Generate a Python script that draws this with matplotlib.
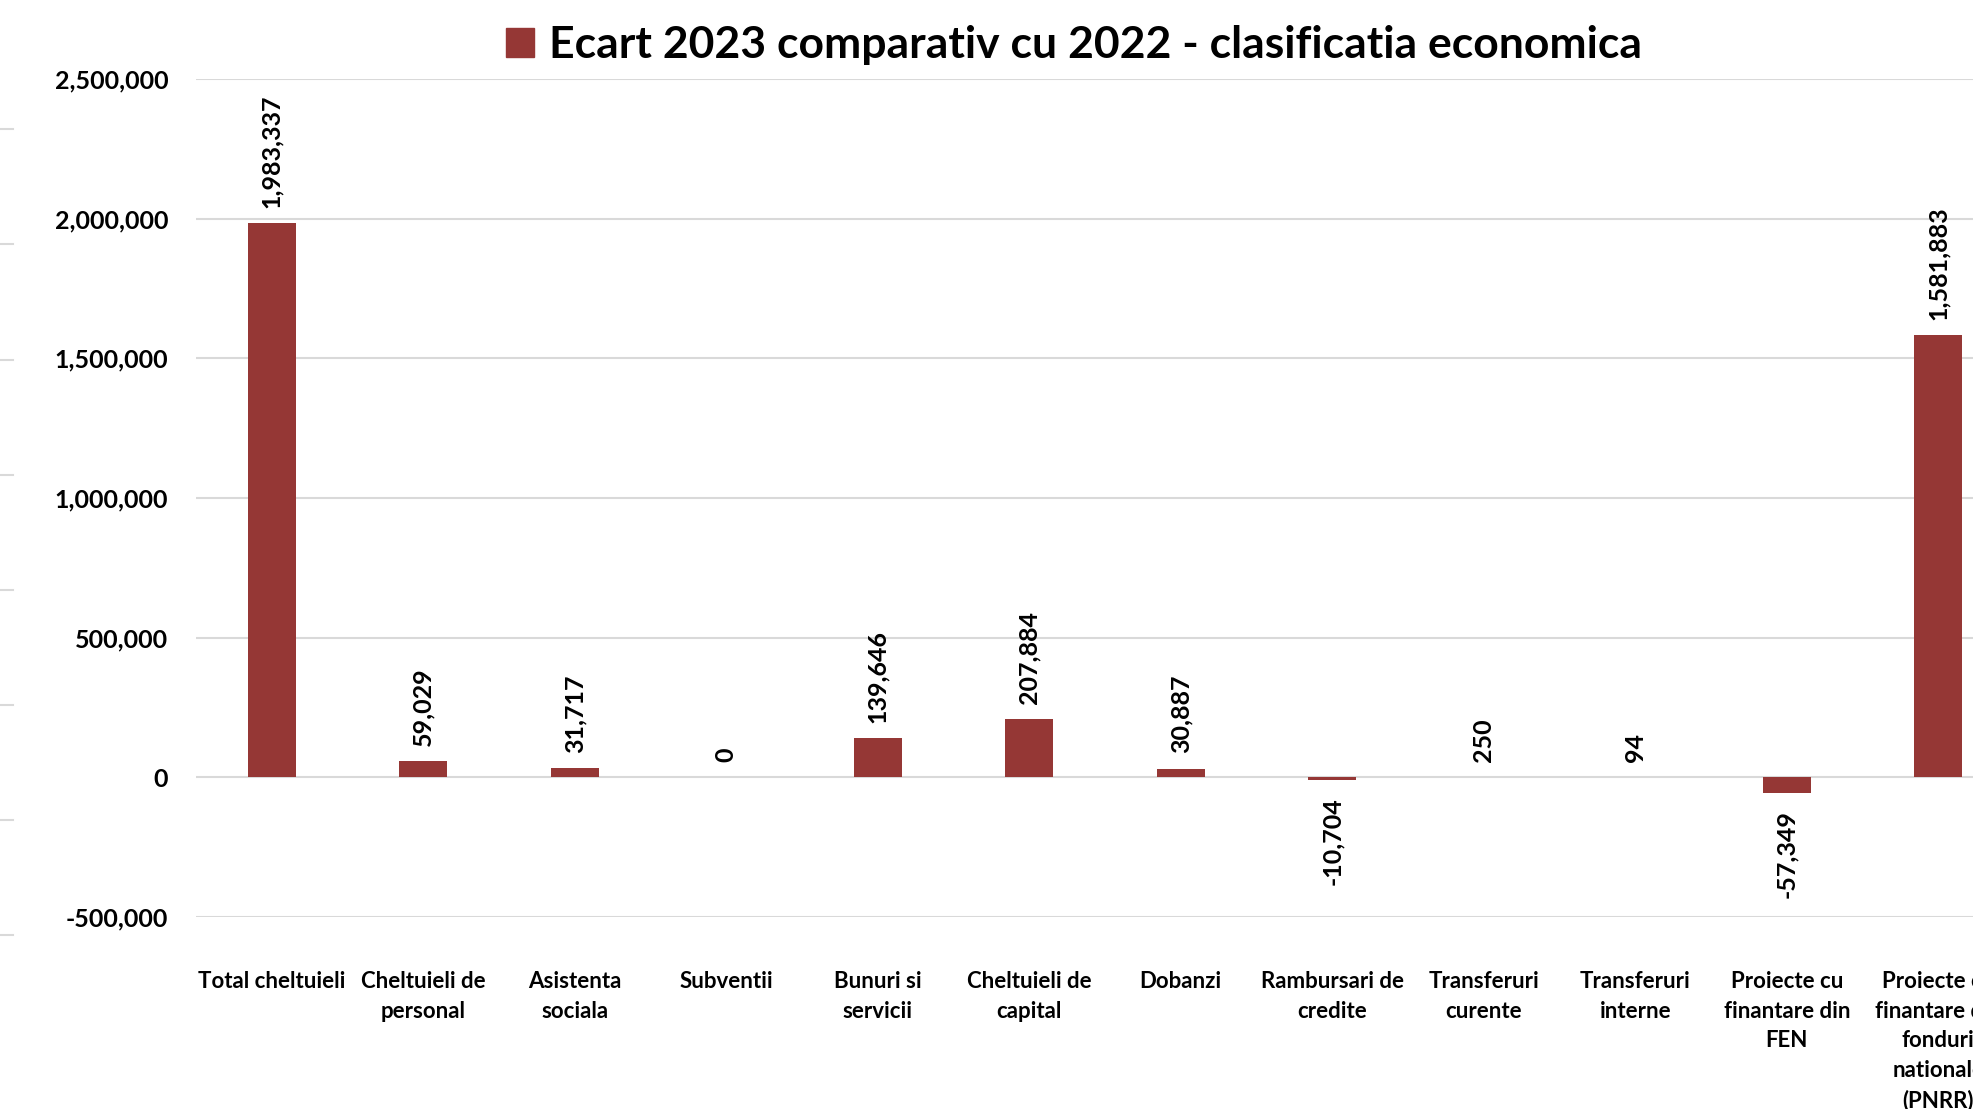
import numpy as np
import matplotlib.pyplot as plt
from matplotlib.patches import Patch
from matplotlib.lines import Line2D
from matplotlib.ticker import FuncFormatter

# categorii si valori (ecart 2023 vs 2022)
categorii = [
    "Total cheltuieli",
    "Cheltuieli de\npersonal",
    "Asistenta\nsociala",
    "Subventii",
    "Bunuri si\nservicii",
    "Cheltuieli de\ncapital",
    "Dobanzi",
    "Rambursari de\ncredite",
    "Transferuri\ncurente",
    "Transferuri\ninterne",
    "Proiecte cu\nfinantare din\nFEN",
    "Proiecte cu\nfinantare din\nfonduri\nnationale\n(PNRR)",
]
ecart = [1983337, 59029, 31717, 0, 139646, 207884, 30887, -10704, 250, 94, -57349, 1581883]
yticks = [-500000, 0, 500000, 1000000, 1500000, 2000000, 2500000]

plt.rcParams['font.family'] = ['Lato', 'DejaVu Sans']
plt.rcParams['font.weight'] = 'bold'

culoare = '#953735'
gri = '#d9d9d9'

W, H = 1973, 1109
fig = plt.figure(figsize=(W / 100, H / 100), dpi=100)
# zona de plot: stanga la 196px, ultima categorie iese din imagine
x0, x1 = 196, 196 + 12 * 151.5
ytop, ybot = 79, 917
ax = fig.add_axes([x0 / W, (H - ybot) / H, (x1 - x0) / W, (ybot - ytop) / H])

x = np.arange(len(categorii))
ax.bar(x, ecart, width=0.32, color=culoare, zorder=3)

ax.set_xlim(-0.5, len(categorii) - 0.5)
ax.set_ylim(-500000, 2500000)
ax.set_yticks(yticks)
ax.yaxis.set_major_formatter(FuncFormatter(lambda v, p: f"{int(v):,}"))
ax.grid(axis='y', color=gri, linewidth=1.5, zorder=0)
for s in ax.spines.values():
    s.set_visible(False)
ax.tick_params(axis='y', length=0, pad=20, labelsize=18)
ax.tick_params(axis='x', length=0, pad=39, labelsize=16)
ax.set_xticks(x)
ax.set_xticklabels(categorii, linespacing=1.5, fontweight='bold')
for lbl in ax.get_yticklabels():
    lbl.set_fontweight('bold')

# etichete valori, rotite
for xi, v in zip(x, ecart):
    if v >= 0:
        ax.annotate(f"{v:,}", (xi, v), xytext=(0, 11), textcoords='offset points',
                    rotation=90, ha='center', va='bottom', fontsize=18, fontweight='bold')
    else:
        ax.annotate(f"{v:,}", (xi, v), xytext=(0, -12), textcoords='offset points',
                    rotation=90, ha='center', va='top', fontsize=18, fontweight='bold')

# legenda in locul titlului
fig.legend(handles=[Patch(color=culoare, label="Ecart 2023 comparativ cu 2022 - clasificatia economica")],
           loc='center', bbox_to_anchor=(1074 / W, 1 - 45 / H), frameon=False,
           handlelength=0.62, handleheight=0.62, handletextpad=0.35,
           prop={'weight': 'bold', 'size': 32})

# resturi de linii de grila la marginea din stanga
for yp in [129, 244, 360, 475, 590, 705, 820, 935]:
    fig.add_artist(Line2D([0, 13 / W], [1 - yp / H, 1 - yp / H], color=gri, linewidth=1.5))

fig.savefig('out.png', dpi=100, facecolor='white')
